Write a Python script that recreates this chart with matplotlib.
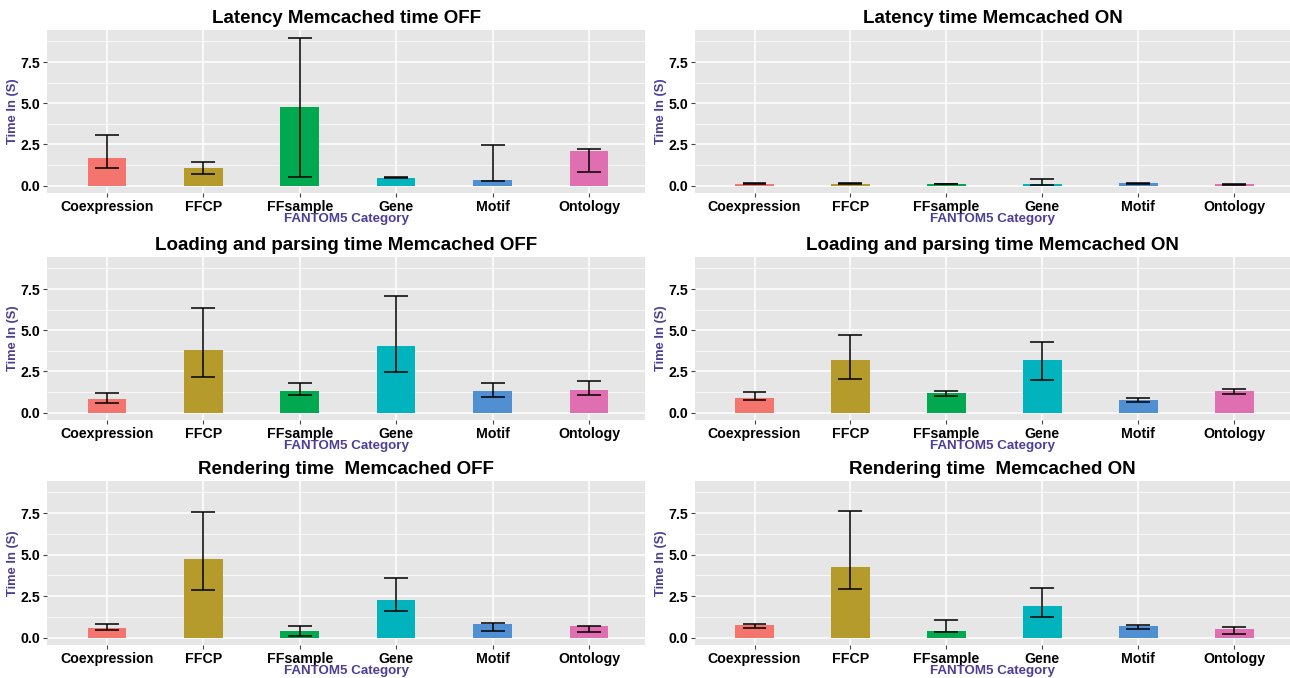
import numpy as np
import matplotlib
matplotlib.use("Agg")
import matplotlib.pyplot as plt
from matplotlib.ticker import MultipleLocator

plt.rcParams['font.family'] = ['Liberation Sans', 'DejaVu Sans']

categories = ['Coexpression', 'FFCP', 'FFsample', 'Gene', 'Motif', 'Ontology']
colors = ['#F4756D', '#B59B2C', '#00A84F', '#00B3BC', '#4F8FD2', '#E06FB2']

titles = ['Latency Memcached time OFF', 'Latency time Memcached ON',
          'Loading and parsing time Memcached OFF', 'Loading and parsing time Memcached ON',
          'Rendering time  Memcached OFF', 'Rendering time  Memcached ON']

# mean time per category, and lower / upper end of the error bars
latency_off = [1.69, 1.07, 4.78, 0.48, 0.32, 2.10]
latency_off_lo = [1.05, 0.71, 0.52, 0.44, 0.28, 0.85]
latency_off_hi = [3.10, 1.43, 8.95, 0.52, 2.48, 2.20]

latency_on = [0.12, 0.12, 0.10, 0.10, 0.15, 0.08]
latency_on_lo = [0.10, 0.08, 0.09, 0.02, 0.12, 0.07]
latency_on_hi = [0.18, 0.18, 0.11, 0.40, 0.18, 0.09]

loading_off = [0.81, 3.81, 1.30, 4.05, 1.34, 1.40]
loading_off_lo = [0.61, 2.15, 1.09, 2.47, 0.95, 1.09]
loading_off_hi = [1.22, 6.32, 1.78, 7.05, 1.78, 1.91]

loading_on = [0.89, 3.18, 1.18, 3.18, 0.79, 1.34]
loading_on_lo = [0.77, 2.05, 1.03, 1.99, 0.63, 1.14]
loading_on_hi = [1.28, 4.70, 1.32, 4.30, 0.89, 1.42]

render_off = [0.57, 4.72, 0.41, 2.25, 0.81, 0.69]
render_off_lo = [0.49, 2.86, 0.08, 1.58, 0.43, 0.36]
render_off_hi = [0.81, 7.56, 0.73, 3.61, 0.89, 0.73]

render_on = [0.77, 4.26, 0.41, 1.93, 0.71, 0.53]
render_on_lo = [0.57, 2.96, 0.34, 1.26, 0.53, 0.24]
render_on_hi = [0.83, 7.62, 1.09, 2.98, 0.77, 0.67]

panels = [
    (latency_off, latency_off_lo, latency_off_hi),
    (latency_on, latency_on_lo, latency_on_hi),
    (loading_off, loading_off_lo, loading_off_hi),
    (loading_on, loading_on_lo, loading_on_hi),
    (render_off, render_off_lo, render_off_hi),
    (render_on, render_on_lo, render_on_hi),
]

W, H = 1290, 678
fig = plt.figure(figsize=(W / 100, H / 100), dpi=100)

# axes boxes in pixels: (left, right) and (top, bottom)
cols = [(47, 645), (695, 1290)]
rows = [(30, 193), (257, 420), (481, 645)]
label_color = '#4B3F96'

x = np.arange(1, len(categories) + 1)
cap = 0.125
for i, (vals, lo, hi) in enumerate(panels):
    (x0, x1) = cols[i % 2]
    (y0, y1) = rows[i // 2]
    ax = fig.add_axes([x0 / W, 1 - y1 / H, (x1 - x0) / W, (y1 - y0) / H])
    ax.set_facecolor('#E6E6E6')
    ax.bar(x, vals, width=0.4, color=colors, zorder=2)
    ax.vlines(x, lo, hi, color='black', linewidth=1.1, zorder=3)
    ax.hlines(lo, x - cap, x + cap, color='black', linewidth=1.1, zorder=3)
    ax.hlines(hi, x - cap, x + cap, color='black', linewidth=1.1, zorder=3)

    ax.set_xlim(0.38, 6.58)
    ax.set_ylim(-0.44, 9.44)
    ax.set_xticks(x)
    ax.set_xticklabels(categories, fontsize=10.2, fontweight='bold')
    ax.yaxis.set_minor_locator(MultipleLocator(1.25))
    ax.set_yticks([0, 2.5, 5.0, 7.5])
    ax.set_yticklabels(['0.0', '2.5', '5.0', '7.5'], fontsize=10.2, fontweight='bold')
    ax.tick_params(axis='both', which='major', length=3, color='#444444', pad=2)
    ax.tick_params(axis='y', which='minor', length=0)
    ax.grid(True, which='major', color='white', linewidth=1.1, zorder=0)
    ax.grid(True, which='minor', axis='y', color='white', linewidth=0.5, zorder=0)
    ax.set_axisbelow(True)
    for s in ax.spines.values():
        s.set_visible(False)

    ax.set_title(titles[i], fontsize=13.5, fontweight='bold', pad=5)
    ax.set_ylabel('Time In (S)', fontsize=9.3, fontweight='bold', color=label_color)
    ax.yaxis.set_label_coords(-28 / (x1 - x0), 0.5)
    ax.set_xlabel('FANTOM5 Category', fontsize=9.6, fontweight='bold', color=label_color, labelpad=-1)

fig.savefig('out.png', dpi=100)
